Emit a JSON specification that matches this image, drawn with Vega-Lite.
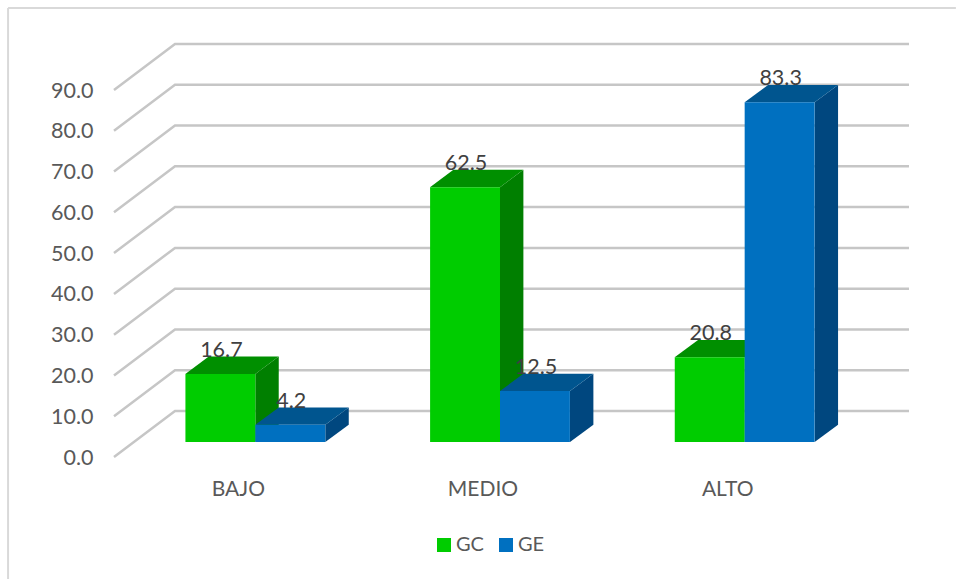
{
  "$schema": "https://vega.github.io/schema/vega-lite/v6.json",
  "width": 734,
  "height": 367,
  "padding": {"left": 114, "top": 90, "right": 108, "bottom": 122},
  "autosize": "none",
  "background": "white",
  "config": {"view": {"stroke": null}, "font": "Lato"},
  "datasets": {
    "bars": [
      {"group": "BAJO", "series": "GC", "value": 16.7},
      {"group": "BAJO", "series": "GE", "value": 4.2},
      {"group": "MEDIO", "series": "GC", "value": 62.5},
      {"group": "MEDIO", "series": "GE", "value": 12.5},
      {"group": "ALTO", "series": "GC", "value": 20.8},
      {"group": "ALTO", "series": "GE", "value": 83.3}
    ],
    "ticks": [
      {"tick": 0}, {"tick": 10}, {"tick": 20}, {"tick": 30}, {"tick": 40},
      {"tick": 50}, {"tick": 60}, {"tick": 70}, {"tick": 80}, {"tick": 90}
    ]
  },
  "resolve": {"scale": {"x": "independent", "color": "independent"}},
  "layer": [
    {
      "data": {"values": [{}]},
      "mark": {"type": "rule", "color": "#d9d9d9", "strokeWidth": 2},
      "encoding": {
        "x": {"datum": -0.433, "type": "quantitative", "scale": {"domain": [0, 3]}, "axis": null},
        "y": {"datum": 110.1, "type": "quantitative", "scale": {"domain": [0, 90]}, "axis": {"title": null, "values": [0, 10, 20, 30, 40, 50, 60, 70, 80, 90], "format": ".1f", "ticks": false, "domain": false, "grid": false, "labelFontSize": 21.5, "labelColor": "#595959", "labelPadding": 21, "labelOffset": 1, "labelFont": "Lato"}},
        "y2": {"datum": -29.9}
      }
    },
    {
      "data": {"values": [{}]},
      "mark": {"type": "rule", "color": "#d9d9d9", "strokeWidth": 2},
      "encoding": {
        "x": {"datum": -0.433, "type": "quantitative", "scale": {"domain": [0, 3]}, "axis": null},
        "x2": {"datum": 3.441},
        "y": {"datum": 110.1, "type": "quantitative", "scale": {"domain": [0, 90]}}
      }
    },
    {
      "data": {"name": "ticks"},
      "transform": [
        {"calculate": "[0, 1, 2]", "as": "p"},
        {"flatten": ["p"]},
        {"calculate": "datum.p == 0 ? 0 : datum.p == 1 ? 0.2493 : 3.2493", "as": "wx"},
        {"calculate": "datum.tick + (datum.p == 0 ? 0 : 11.28)", "as": "wy"}
      ],
      "mark": {"type": "line", "color": "#c6c6c6", "strokeWidth": 2.5, "interpolate": "linear"},
      "encoding": {
        "x": {"field": "wx", "type": "quantitative", "scale": {"domain": [0, 3]}, "axis": null},
        "y": {"field": "wy", "type": "quantitative", "scale": {"domain": [0, 90]}},
        "detail": {"field": "tick"},
        "order": {"field": "p"}
      }
    },
    {
      "data": {"name": "bars"},
      "transform": [
        {"calculate": "indexof(['BAJO','MEDIO','ALTO'], datum.group) + 0.5 + (datum.series == 'GC' ? 0 : 0.2861)", "as": "right"},
        {"calculate": "[0, 1]", "as": "t"},
        {"flatten": ["t"]},
        {"calculate": "datum.right + datum.t * 0.0956", "as": "sx"},
        {"calculate": "datum.value + datum.t * 4.24", "as": "sy"},
        {"calculate": "datum.t * 4.24", "as": "sy0"}
      ],
      "mark": {"type": "area", "orient": "vertical", "xOffset": 19, "yOffset": -15, "y2Offset": -15},
      "encoding": {
        "x": {"field": "sx", "type": "quantitative", "scale": {"domain": [0, 3]}, "axis": null},
        "y": {"field": "sy", "type": "quantitative", "scale": {"domain": [0, 90]}, "stack": null},
        "y2": {"field": "sy0"},
        "detail": {"field": "group"},
        "color": {"field": "series", "type": "nominal", "scale": {"domain": ["GC", "GE"], "range": ["#007f00", "#00477f"]}, "legend": null}
      }
    },
    {
      "data": {"name": "bars"},
      "transform": [
        {"calculate": "indexof(['BAJO','MEDIO','ALTO'], datum.group) + 0.5 + (datum.series == 'GC' ? -0.2861 : 0)", "as": "left"},
        {"calculate": "[0, 1]", "as": "t"},
        {"flatten": ["t"]},
        {"calculate": "datum.left + datum.t * 0.0956", "as": "tx"},
        {"calculate": "datum.tx + 0.2861", "as": "tx2"},
        {"calculate": "datum.value + datum.t * 4.24", "as": "ty"}
      ],
      "mark": {"type": "area", "orient": "horizontal", "xOffset": 19, "x2Offset": 19, "yOffset": -15},
      "encoding": {
        "y": {"field": "ty", "type": "quantitative", "scale": {"domain": [0, 90]}},
        "x": {"field": "tx", "type": "quantitative", "scale": {"domain": [0, 3]}, "axis": null, "stack": null},
        "x2": {"field": "tx2"},
        "detail": {"field": "group"},
        "color": {"field": "series", "type": "nominal", "scale": {"domain": ["GC", "GE"], "range": ["#008f00", "#00558f"]}, "legend": null}
      }
    },
    {
      "data": {"name": "bars"},
      "mark": {"type": "bar", "yOffset": -15, "y2Offset": -15},
      "encoding": {
        "x": {
          "field": "group", "type": "nominal", "sort": ["BAJO", "MEDIO", "ALTO"],
          "scale": {"paddingInner": 0, "paddingOuter": 0, "range": [19, 753]},
          "axis": {"title": null, "ticks": false, "domain": false, "labelAngle": 0, "labelFontSize": 21, "labelColor": "#595959", "labelPadding": 21, "labelOffset": -17, "labelFont": "Lato", "grid": false}
        },
        "xOffset": {"field": "series", "type": "nominal", "scale": {"domain": ["GC", "GE"], "paddingInner": 0, "paddingOuter": 0.75}},
        "y": {"field": "value", "type": "quantitative", "stack": null, "scale": {"domain": [0, 90]}},
        "y2": {"datum": 0},
        "color": {
          "field": "series", "type": "nominal",
          "scale": {"domain": ["GC", "GE"], "range": ["#00cc00", "#0070c0"]},
          "legend": {"title": null, "orient": "none", "legendX": 320, "legendY": 445, "direction": "horizontal", "symbolType": "square", "symbolSize": 196, "symbolStrokeWidth": 0, "labelFontSize": 20, "labelColor": "#595959", "labelFont": "Lato", "columnPadding": 12, "labelOffset": 2}
        }
      }
    },
    {
      "data": {"name": "bars"},
      "mark": {"type": "text", "yOffset": -38, "fontSize": 21.5, "color": "#404040", "font": "Lato", "baseline": "middle", "align": "center"},
      "encoding": {
        "x": {"field": "group", "type": "nominal", "sort": ["BAJO", "MEDIO", "ALTO"], "scale": {"paddingInner": 0, "paddingOuter": 0, "range": [20, 754]}, "axis": null},
        "xOffset": {"field": "series", "type": "nominal", "scale": {"domain": ["GC", "GE"], "paddingInner": 0, "paddingOuter": 0.75}},
        "y": {"field": "value", "type": "quantitative", "stack": null, "scale": {"domain": [0, 90]}},
        "text": {"field": "value", "type": "quantitative", "format": ".1f"}
      }
    }
  ]
}
